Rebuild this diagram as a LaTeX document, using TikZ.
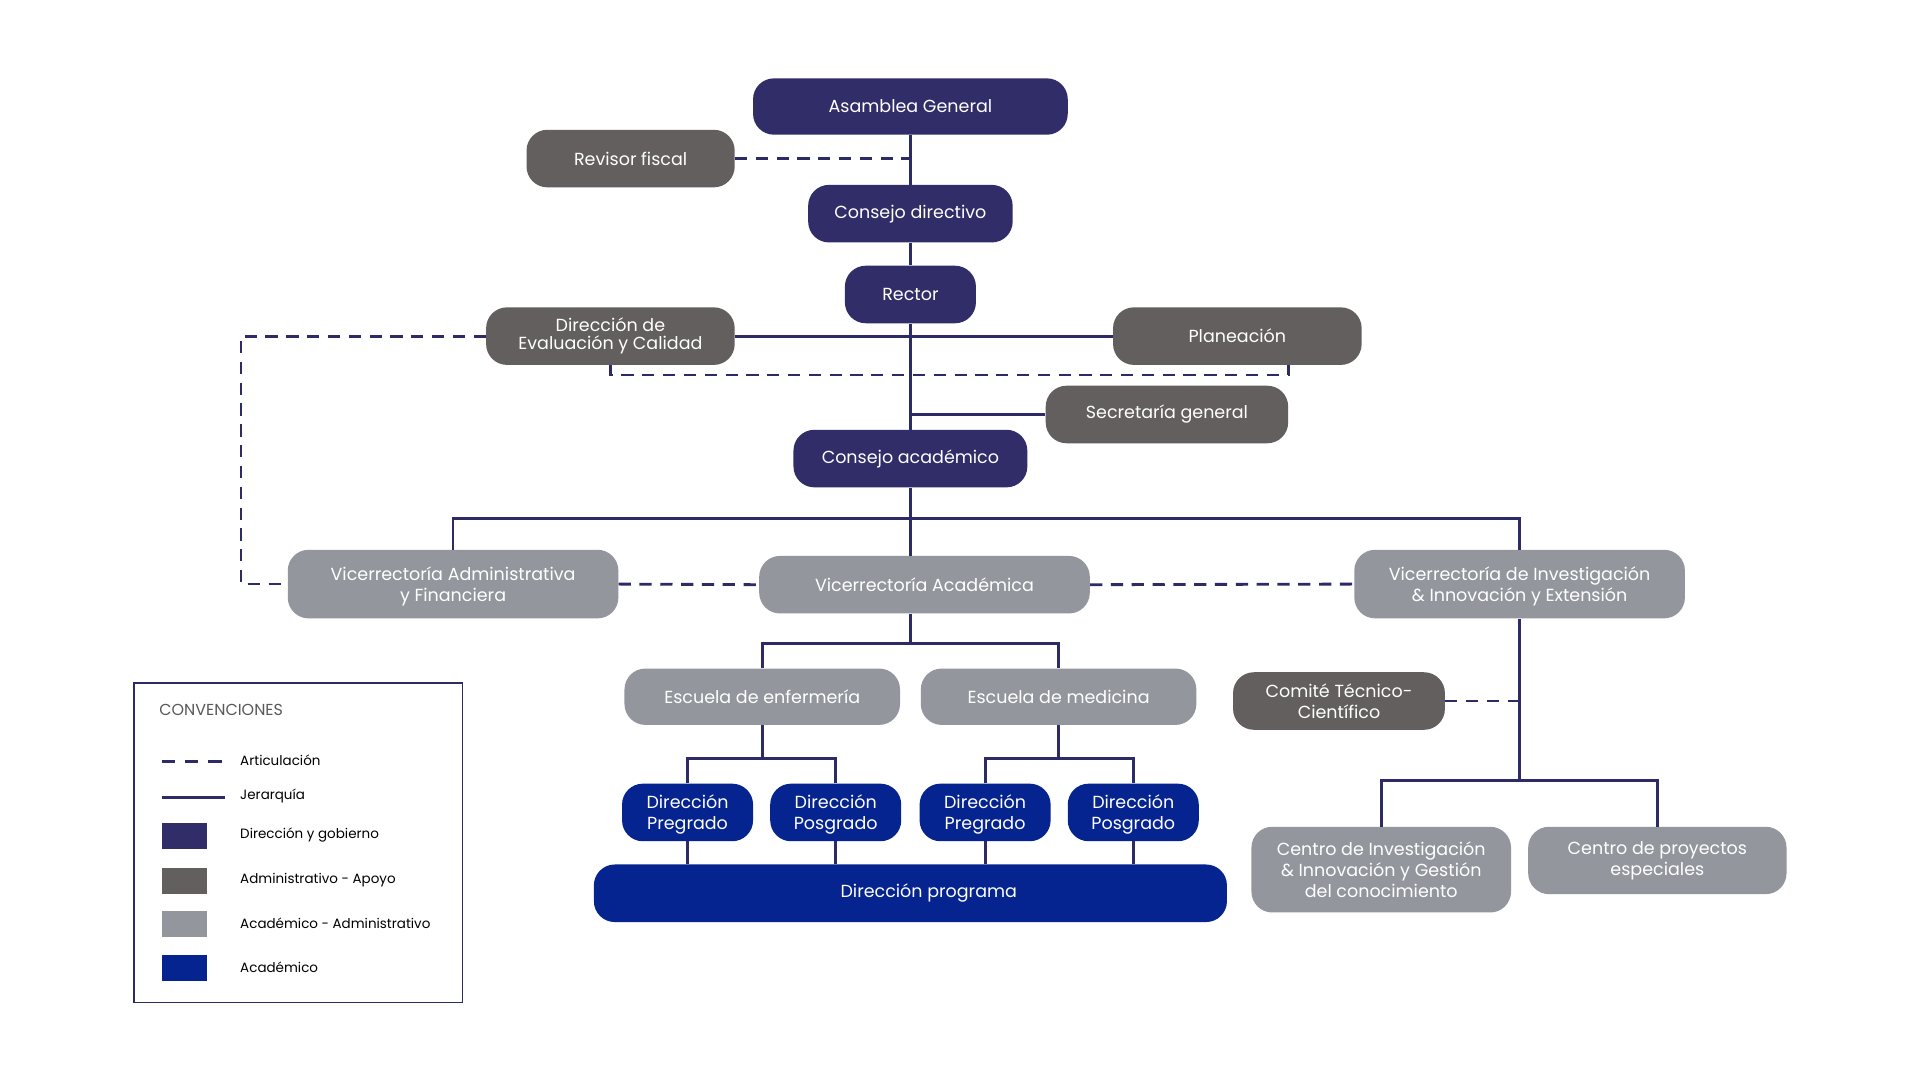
\documentclass[tikz,border=0pt]{standalone}
\usepackage{fontspec}
\setmainfont{Poppins}
\definecolor{cgov}{HTML}{302D68}
\definecolor{cadm}{HTML}{625F5E}
\definecolor{caca}{HTML}{93969C}
\definecolor{cacad}{HTML}{06248F}
\definecolor{cline}{HTML}{2D2B66}
\begin{document}
\begin{tikzpicture}[x=1pt,y=-1pt,
  orgbox/.style={rounded corners=17pt, minimum height=47pt, text=white, align=center,
    inner sep=0pt, font=\fontsize{14.3}{17}\selectfont},
  gov/.style={orgbox, fill=cgov},
  adm/.style={orgbox, fill=cadm},
  aca/.style={orgbox, fill=caca},
  acad/.style={orgbox, fill=cacad},
  hier/.style={draw=cline, line width=2.3pt},
  art/.style={draw=cline, line width=2.3pt, dash pattern=on 10pt off 7pt},
  legtxt/.style={anchor=west, inner sep=0pt, font=\fontsize{11}{13}\selectfont, text=black},
  legsq/.style={minimum width=37pt, minimum height=21pt, inner sep=0pt}
]
\useasboundingbox[fill=white] (0,0) rectangle (1568,882);

% nodes
\node[gov, minimum width=257pt, minimum height=46pt] (asamblea) at (743.5,87) {Asamblea General};
\node[adm, minimum width=170pt] (revisor) at (515,129.5) {Revisor fiscal};
\node[gov, minimum width=167pt] (consdir) at (743.5,174.5) {Consejo directivo};
\node[gov, minimum width=107pt] (rector) at (743.5,240.5) {Rector};
\node[adm, minimum width=203pt, font=\fontsize{14.3}{15}\selectfont] (dec) at (498.5,274.5) {Dirección de\\Evaluación y Calidad};
\node[adm, minimum width=203pt] (plan) at (1010.5,274.5) {Planeación};
\node[adm, minimum width=198pt] (secre) at (953,338.5) {Secretaría general};
\node[gov, minimum width=191pt] (consacad) at (743.5,374.5) {Consejo académico};
\node[aca, minimum width=270pt, minimum height=56pt] (vaf) at (370,477) {\rule{0pt}{15pt}Vicerrectoría Administrativa\\y Financiera};
\node[aca, minimum width=270pt] (va) at (755,477.5) {Vicerrectoría Académica};
\node[aca, minimum width=270pt, minimum height=56pt] (vie) at (1241,477) {\rule{0pt}{15pt}Vicerrectoría de Investigación\\\& Innovación y Extensión};
\node[aca, minimum width=225pt, minimum height=46pt] (enf) at (622.5,569) {Escuela de enfermería};
\node[aca, minimum width=225pt, minimum height=46pt] (med) at (864.5,569) {Escuela de medicina};
\node[acad, minimum width=107pt] (dp1) at (561.5,663.5) {\rule{0pt}{14pt}Dirección\\Pregrado};
\node[acad, minimum width=107pt] (dpo1) at (682.5,663.5) {\rule{0pt}{14pt}Dirección\\Posgrado};
\node[acad, minimum width=107pt] (dp2) at (804.5,663.5) {\rule{0pt}{14pt}Dirección\\Pregrado};
\node[acad, minimum width=107pt] (dpo2) at (925.5,663.5) {\rule{0pt}{14pt}Dirección\\Posgrado};
\node[acad, minimum width=517pt] (prog) at (743.5,729.5) {\hspace*{30pt}Dirección programa};
\node[adm, minimum width=173pt] (comite) at (1093.5,572.5) {Comité Técnico-\\Científico};
\node[aca, minimum width=212pt, minimum height=70pt, anchor=north] (ciig) at (1128,675) {Centro de Investigación\\\& Innovación y Gestión\\del conocimiento};
\node[aca, minimum width=211pt, minimum height=55pt, anchor=north] (cpe) at (1353.5,675) {Centro de proyectos\\especiales};

% hierarchy
\draw[hier] (asamblea.south) -- (consdir.north);
\draw[hier] (consdir.south) -- (rector.north);
\draw[hier] (rector.south) -- (consacad.north);
\draw[hier] (dec.east) -- (plan.west);
\draw[hier] (rector.south |- secre.west) -- (secre.west);
\draw[hier] (consacad.south) -- ++(0,25) coordinate (bar1);
\draw[hier] (vaf.north) |- (bar1) -| (vie.north);
\draw[hier] (bar1) -- (bar1 |- va.north);
\draw[hier] (bar1 |- va.south) -- ++(0,24) coordinate (bar2);
\draw[hier] (enf.north) |- (bar2) -| (med.north);
\draw[hier] (enf.south) -- ++(0,27) coordinate (bar3);
\draw[hier] (dp1.north) |- (bar3) -| (dpo1.north);
\draw[hier] (med.south) -- ++(0,27) coordinate (bar4);
\draw[hier] (dp2.north) |- (bar4) -| (dpo2.north);
\draw[hier] (dp1.south) -- (dp1.south |- prog.north);
\draw[hier] (dpo1.south) -- (dpo1.south |- prog.north);
\draw[hier] (dp2.south) -- (dp2.south |- prog.north);
\draw[hier] (dpo2.south) -- (dpo2.south |- prog.north);
\draw[hier] (vie.south) -- ++(0,132) coordinate (bar5);
\draw[hier] (ciig.north) |- (bar5) -| (cpe.north);

% articulation
\draw[art] (revisor.east) -- (revisor.east -| asamblea.south);
\draw[art] (dec.south) -- ++(0,8) -| ([xshift=42pt]plan.south);
\draw[art] (dec.west) -- ++(-200,0) |- (vaf.west);
\draw[art] (vaf.east) -- (va.west);
\draw[art] (va.east) -- (vie.west);
\draw[art] (comite.east) -- (comite.east -| vie.south);

% legend
\node[draw=cline, line width=1.5pt, minimum width=268pt, minimum height=261pt, anchor=north west, inner sep=0pt] (legend) at (109,557) {};
\node[anchor=west, inner sep=0pt, text=black!65, font=\fontsize{13}{15}\selectfont] (legtitle) at (130,580) {CONVENCIONES};
\coordinate (la1) at (132,622); \coordinate (la2) at (182,622);
\draw[draw=cline, line width=2.6pt, dash pattern=on 11pt off 8pt] (la1) -- (la2);
\node[legtxt] (lart) at (196,621) {Articulación};
\coordinate (lj1) at (132,651); \coordinate (lj2) at (184,651);
\draw[draw=cline, line width=2.6pt] (lj1) -- (lj2);
\node[legtxt] (ljer) at (196,650) {Jerarquía};
\node[legsq, fill=cgov, anchor=west] (sq1) at (132,682.5) {};
\node[legtxt] (lgov) at (196,682) {Dirección y gobierno};
\node[legsq, fill=cadm, anchor=west] (sq2) at (132,719.5) {};
\node[legtxt] (ladm) at (196,719) {Administrativo - Apoyo};
\node[legsq, fill=caca, anchor=west] (sq3) at (132,754.5) {};
\node[legtxt] (laca) at (196,754) {Académico - Administrativo};
\node[legsq, fill=cacad, anchor=west] (sq4) at (132,790.5) {};
\node[legtxt] (lacad) at (196,790) {Académico};
\end{tikzpicture}
\end{document}
